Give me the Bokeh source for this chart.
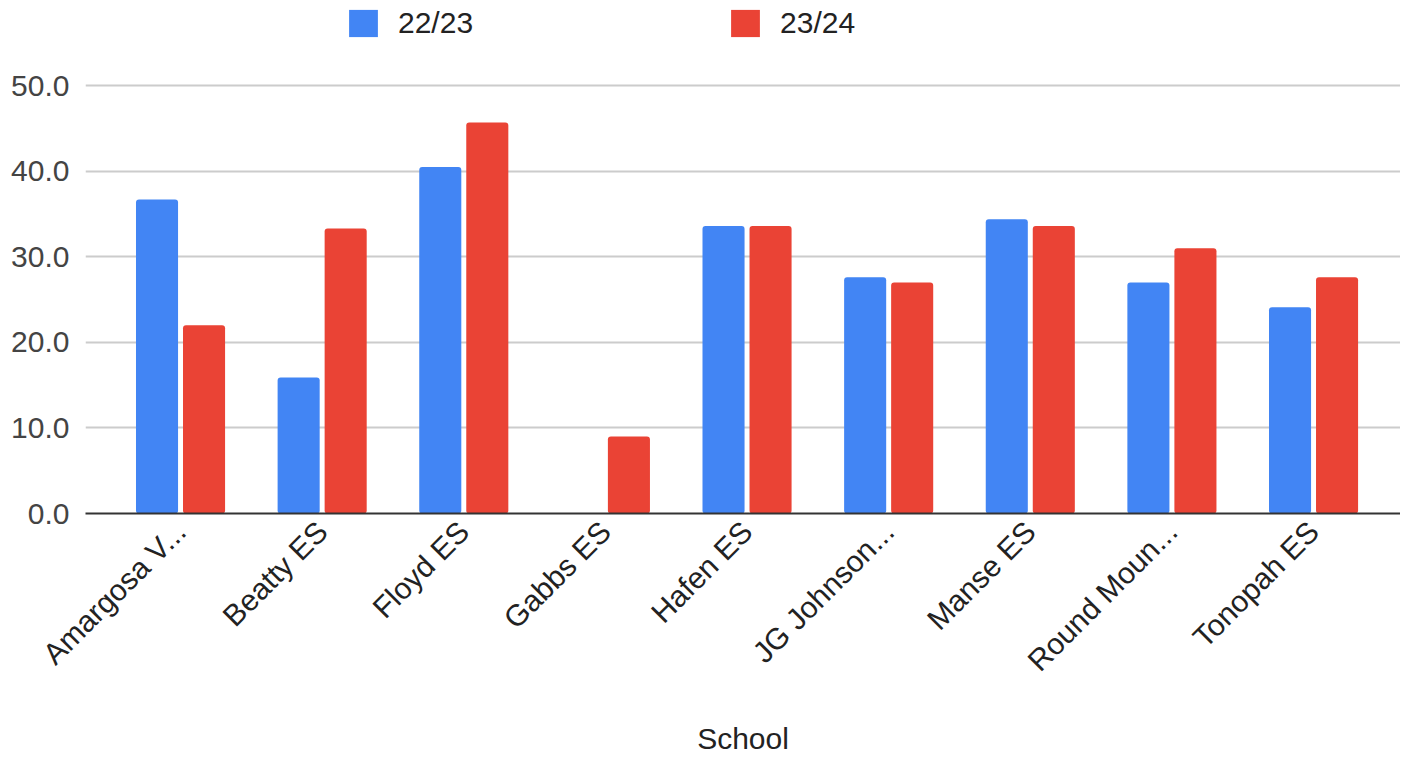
from bokeh.plotting import figure
from bokeh.models import Range1d, FixedTicker, Legend, LegendItem, ColumnDataSource
from bokeh.transform import dodge
from bokeh.embed import file_html
from bokeh.resources import INLINE

schools = ["Amargosa V...", "Beatty ES", "Floyd ES", "Gabbs ES", "Hafen ES",
           "JG Johnson...", "Manse ES", "Round Moun...", "Tonopah ES"]
series_names = ["22/23", "23/24"]
v2223 = [36.7, 15.9, 40.5, 0.0, 33.6, 27.6, 34.4, 27.0, 24.1]
v2324 = [22.0, 33.3, 45.7, 9.0, 33.6, 27.0, 33.6, 31.0, 27.6]
y_ticks = [0, 10, 20, 30, 40, 50]

idx = list(range(len(schools)))
src = ColumnDataSource(dict(x=idx, a=v2223, b=v2324))

FONT = "Liberation Sans"
FS = "30px"
# frame spans the whole top so the legend can sit inside it above the 50 line
p = figure(width=1400, height=757, output_backend="svg", toolbar_location=None,
           x_range=Range1d(-0.671, 8.614), y_range=Range1d(0, 59.95),
           min_border_left=85, min_border_right=0, min_border_top=0,
           min_border_bottom=242)
p.outline_line_color = None

r1 = p.vbar(x=dodge("x", -0.166, range=p.x_range), top="a", width=0.297, bottom=0,
            source=src, color="#4285F4", line_color=None, border_radius=3)
r2 = p.vbar(x=dodge("x", 0.166, range=p.x_range), top="b", width=0.297, bottom=0,
            source=src, color="#EA4335", line_color=None, border_radius=3)

# axes
p.xaxis.ticker = FixedTicker(ticks=idx)
p.xaxis.major_label_overrides = {i: s for i, s in enumerate(schools)}
p.xaxis.major_label_orientation = 0.785398
p.xaxis.major_label_text_font = FONT
p.xaxis.major_label_text_font_size = FS
p.xaxis.major_label_text_color = "#222222"
p.xaxis.major_tick_line_color = None
p.xaxis.minor_tick_line_color = None
p.xaxis.axis_line_color = "#333333"
p.xaxis.axis_line_width = 2
p.xaxis.major_label_standoff = 7
p.xaxis.axis_label = "School"
p.xaxis.axis_label_text_font = FONT
p.xaxis.axis_label_text_font_size = FS
p.xaxis.axis_label_text_font_style = "normal"
p.xaxis.axis_label_text_color = "#222222"
p.xaxis.axis_label_standoff = 30

p.yaxis.ticker = FixedTicker(ticks=y_ticks)
p.yaxis.major_label_overrides = {t: f"{t:.1f}" for t in y_ticks}
p.yaxis.major_label_text_font = FONT
p.yaxis.major_label_text_font_size = FS
p.yaxis.major_label_text_color = "#444444"
p.yaxis.major_tick_line_color = None
p.yaxis.minor_tick_line_color = None
p.yaxis.axis_line_color = None
p.yaxis.major_label_standoff = 10

p.xgrid.grid_line_color = None
p.ygrid.grid_line_color = "#cccccc"
p.ygrid.grid_line_width = 2

legend = Legend(items=[LegendItem(label=series_names[0], renderers=[r1]),
                       LegendItem(label=series_names[1], renderers=[r2])],
                orientation="horizontal", location=(260, 473),
                glyph_width=36, glyph_height=34, label_standoff=17,
                spacing=254, padding=0, margin=0, border_line_color=None,
                background_fill_alpha=0,
                label_text_font=FONT, label_text_font_size=FS,
                label_text_color="#222222")
p.add_layout(legend, "center")

open("out.html", "w").write(file_html(p, INLINE))
